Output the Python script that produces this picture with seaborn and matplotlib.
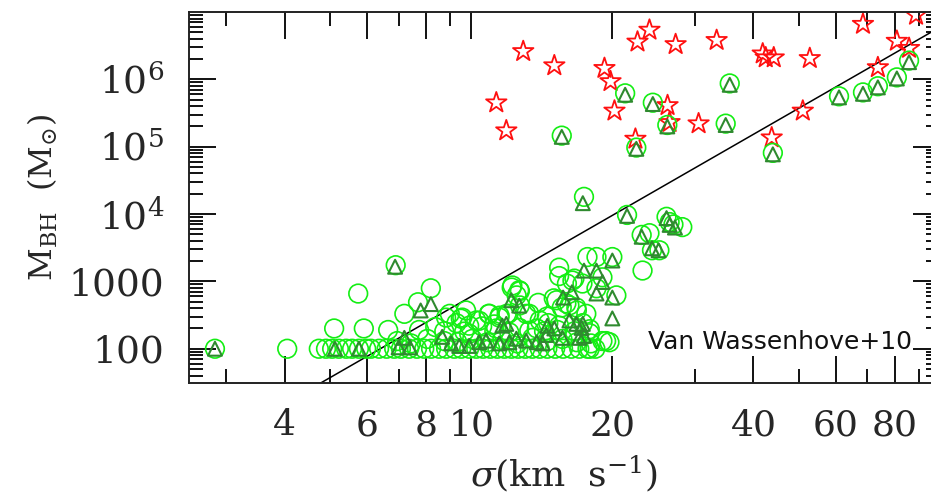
import numpy as np
import seaborn as sns
import matplotlib
matplotlib.use("Agg")
import matplotlib.pyplot as plt
from matplotlib.ticker import FixedLocator, NullFormatter, LogLocator

# velocity dispersion (km/s) and black hole mass (Msun)
# green circles: all simulated galaxies
circle_sigma = [
    2.84, 4.05, 5.74, 5.1, 5.9, 6.65, 6.9, 8.2, 7.7, 7.2, 8.84, 9.3, 9.5, 10.4,
    10.9, 11.3, 11.9, 12.5, 9.75, 9.9, 11.5, 11.2, 12.7,
    4.73, 4.90, 5.05, 5.22, 5.41, 5.57, 5.76, 5.97, 6.11, 6.36, 6.6, 6.85, 7.08,
    7.37, 7.66, 7.94, 8.21, 8.54, 8.84, 9.2, 9.52, 9.9, 10.25, 10.6, 10.98,
    11.37, 11.77, 12.18, 12.6, 13.04, 13.5, 14.0, 14.53, 15.1, 15.7, 16.35,
    17.0, 17.7, 18.4,
    6.95, 7.44, 8.06, 8.76, 9.34, 10.05, 10.82, 11.65, 12.54, 13.5, 14.53,
    15.65, 16.8, 18.0,
    7.74, 8.38, 9.66, 10.55, 12.06, 13.3, 15.27, 17.9,
    9.0, 9.57, 10.25, 10.93, 11.48, 12.24, 12.66, 13.3, 14.0, 15.2, 15.96,
    16.44, 17.27, 15.4, 16.76, 17.6, 19.72,
    8.76, 9.9, 11.2, 12.66, 14.3, 15.4, 16.6, 17.9,
    17.4, 21.5, 23.1, 24.0, 26.1, 26.5, 28.2, 27.0, 24.3, 25.2, 23.2, 20.0,
    18.5, 17.7, 15.4, 19.05, 20.4, 18.5, 16.0, 15.0, 16.2, 17.3, 16.8, 12.7,
    12.2, 12.0, 14.6, 13.8, 13.1, 19.4, 19.05, 17.9, 16.6, 15.6, 14.5, 13.9,
    21.3, 24.4, 26.2, 15.6, 22.5, 35.6, 34.9, 44.0, 60.9, 68.5, 73.7, 80.9, 85.9,
]
circle_mbh = [
    100, 100, 660, 200, 200, 190, 1740, 790, 490, 330, 290, 240, 280, 260,
    330, 200, 330, 620, 370, 220, 310, 230, 720,
    100, 100, 100, 100, 100, 100, 100, 100, 100, 100, 100, 100, 100,
    100, 100, 100, 100, 100, 100, 100, 100, 100, 100, 100, 100,
    100, 100, 100, 100, 100, 100, 100, 100, 100, 100, 100,
    100, 100, 100,
    130, 120, 140, 130, 125, 140, 125, 135, 120, 145, 130,
    140, 125, 120,
    190, 210, 180, 215, 175, 185, 190, 170,
    330, 290, 263, 330, 290, 870, 740, 330, 263, 525, 470,
    1030, 930, 1200, 410, 330, 125,
    182, 167, 182, 204, 182, 220, 182, 195,
    1.8e4, 9.7e3, 4.9e3, 5.2e3, 9.1e3, 7.6e3, 6.4e3, 7.0e3, 2.9e3, 2.9e3, 1.45e3, 2.3e3,
    2.3e3, 2.3e3, 1.6e3, 1.15e3, 620, 790, 930, 560, 440, 240, 370, 440,
    810, 330, 240, 200, 330, 130, 130, 100, 1.1e3, 410, 300, 480,
    6.2e5, 4.5e5, 2.1e5, 1.46e5, 9.7e4, 8.7e5, 2.2e5, 8.1e4, 5.6e5, 6.4e5, 7.9e5, 1.07e6, 1.9e6,
]

# dark green triangles
tri_sigma = [
    2.84, 5.12, 5.76, 6.88, 7.8, 8.2, 7.2, 7.0, 7.4, 8.67, 9.06, 9.43, 9.9,
    10.4, 10.76, 11.48, 12.06, 12.48, 13.1, 13.8, 14.2,
    11.88, 11.65, 12.18, 12.66, 14.53, 15.04, 14.46, 15.65, 16.76, 17.2, 17.4,
    15.7, 16.4, 16.2, 17.3, 17.0, 17.4, 18.5, 19.05, 20.0, 18.5, 20.0, 20.0,
    17.3, 21.5, 23.1, 24.3, 25.1, 26.1, 26.5, 27.2,
    21.3, 24.4, 26.2, 15.6, 22.5, 35.6, 34.9, 44.0, 60.9, 68.5, 73.7, 80.9, 85.9,
]
tri_mbh = [
    100, 100, 100, 1650, 370, 460, 145, 105, 105, 150, 120, 110, 110,
    125, 132, 120, 125, 141, 132, 125, 120,
    234, 220, 525, 437, 219, 200, 160, 145, 234, 204, 155,
    575, 690, 263, 234, 145, 1445, 1445, 980, 2040, 661, 575, 282,
    1.45e4, 9.4e3, 4.6e3, 3.1e3, 2.9e3, 8.7e3, 6.9e3, 6.3e3,
    5.9e5, 4.3e5, 2.0e5, 1.4e5, 9.3e4, 8.3e5, 2.1e5, 7.7e4, 5.4e5, 6.1e5, 7.6e5, 1.03e6, 1.8e6,
]

# red stars
star_sigma = [
    11.31, 11.88, 12.91, 15.04, 19.24, 19.82, 20.21, 22.63, 24.0, 22.4, 27.29,
    26.23, 26.49, 30.55, 33.38, 41.86, 42.48, 44.19, 43.75, 52.75, 50.97,
    68.5, 73.7, 80.9, 85.9, 88.9,
]
star_mbh = [
    4.5e5, 1.73e5, 2.6e6, 1.6e6, 1.46e6, 9.3e5, 3.4e5, 3.6e6, 5.4e6, 1.3e5, 3.3e6,
    4.1e5, 2.3e5, 2.2e5, 3.8e6, 2.4e6, 2.1e6, 2.1e6, 1.36e5, 2.05e6, 3.4e5,
    6.6e6, 1.5e6, 3.7e6, 2.9e6, 9.0e6,
]

# M-sigma relation drawn across the panel
ms_norm = 7.98   # log M at sigma = 200 km/s
ms_slope = 4.0
line_sigma = np.array([2.5, 100.0])
line_mbh = 10 ** (ms_norm + ms_slope * np.log10(line_sigma / 200.0))

x_major = [4, 6, 8, 10, 20, 40, 60, 80]
x_minor = [3, 5, 7, 9, 30, 50, 70, 90]
x_labels = ["4", "6", "8", "10", "20", "40", "60", "80"]
y_major = [1e2, 1e3, 1e4, 1e5, 1e6]
y_labels = ["100", "1000", r"$10^4$", r"$10^5$", r"$10^6$"]

sns.set_style("ticks")
plt.rcParams["font.family"] = ["DejaVu Serif"]
plt.rcParams["mathtext.fontset"] = "dejavuserif"

fig = plt.figure(figsize=(9.31, 5.04), dpi=100)
ax = fig.add_axes([189 / 931, 121 / 504, 751 / 931, 371 / 504])
ax.set_xscale("log")
ax.set_yscale("log")

sns.lineplot(x=line_sigma, y=line_mbh, color="black", linewidth=1.1, ax=ax, zorder=1)
sns.scatterplot(x=star_sigma, y=star_mbh, marker="*", s=240, facecolor="none",
                edgecolor="#ff1010", linewidth=1.3, ax=ax, zorder=2)
sns.scatterplot(x=circle_sigma, y=circle_mbh, marker="o", s=180, facecolor="none",
                edgecolor="#14ee14", linewidth=1.2, ax=ax, zorder=3)
sns.scatterplot(x=tri_sigma, y=tri_mbh, marker="^", s=100, facecolor="none",
                edgecolor="#2f8a2f", linewidth=1.5, ax=ax, zorder=4)

ax.set_xlim(2.5, 100)
ax.set_ylim(31, 1e7)

ax.xaxis.set_major_locator(FixedLocator(x_major))
ax.xaxis.set_minor_locator(FixedLocator(x_minor))
ax.set_xticklabels(x_labels)
ax.xaxis.set_minor_formatter(NullFormatter())
ax.yaxis.set_major_locator(FixedLocator(y_major))
ax.set_yticklabels(y_labels)
ax.yaxis.set_minor_locator(LogLocator(base=10, subs=np.arange(2, 10), numticks=20))
ax.yaxis.set_minor_formatter(NullFormatter())

ax.tick_params(axis="x", labelsize=26)
ax.tick_params(axis="y", labelsize=27)
ax.tick_params(which="major", direction="in", top=True, right=True,
               length=19.5, width=1.4, color="#111111", pad=18)
ax.tick_params(which="minor", direction="in", top=True, right=True,
               length=10, width=1.4, color="#111111")
for sp in ax.spines.values():
    sp.set_linewidth(1.4)
    sp.set_color("#222222")

ax.set_xlabel(r"$\sigma(\mathrm{km\ \ s^{-1}})$", fontsize=26)
ax.set_ylabel(r"$\mathrm{M_{BH}}\ \ (\mathrm{M}_{\odot})$", fontsize=23)
ax.xaxis.set_label_coords(0.5, -0.19)
ax.yaxis.set_label_coords(-0.172, 0.5)

ax.text(0.963, 0.11, "Van Wassenhove+10", transform=ax.transAxes, ha="right",
        va="center", fontsize=18, family="DejaVu Sans", color="#111111")

fig.savefig("out.png", dpi=100)
